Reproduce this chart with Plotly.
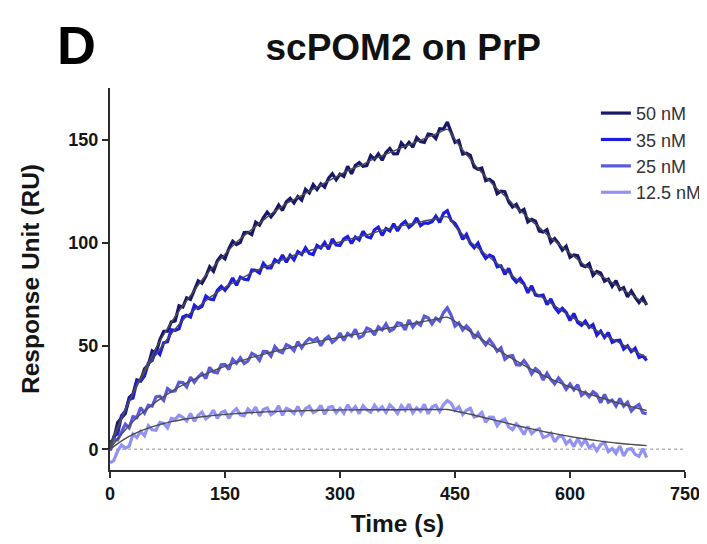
import plotly.graph_objects as go

# ---------------- data ----------------
series_names = ["50 nM", "35 nM", "25 nM", "12.5 nM"]
series_colors = ["#17186b", "#1c1ce3", "#5a5ad8", "#9292f4"]

# measured sensorgram time points (s), every 5 s
t_data = list(range(0, 701, 5))
# fitted-curve time points (s), every 10 s
t_fit = list(range(0, 701, 10))

data_50 = [
    3.2, 5.0, 13.0, 15.5, 17.4, 25.1, 26.8, 33.6, 33.2, 39.0,
    40.9, 47.7, 46.6, 53.1, 57.2, 57.2, 61.7, 62.2, 69.5, 68.9,
    73.4, 72.6, 77.6, 81.6, 80.4, 83.8, 88.4, 86.2, 91.3, 93.8,
    92.3, 97.2, 100.8, 99.2, 100.2, 105.0, 105.1, 104.0, 110.0, 108.6,
    112.1, 114.9, 112.6, 115.0, 118.3, 115.7, 119.9, 121.6, 119.3, 122.4,
    120.7, 125.9, 124.2, 128.2, 125.8, 128.6, 127.0, 131.3, 133.5, 130.5,
    133.3, 132.2, 137.1, 133.4, 137.5, 138.9, 137.1, 137.4, 142.3, 140.5,
    143.1, 140.0, 143.8, 145.7, 143.1, 143.2, 148.4, 146.3, 148.7, 146.3,
    151.0, 149.1, 148.7, 152.7, 152.4, 150.5, 155.3, 155.1, 158.5, 153.5,
    148.7, 149.6, 143.0, 143.4, 142.4, 136.7, 135.7, 136.3, 130.1, 130.8,
    129.4, 123.8, 125.0, 124.8, 119.9, 117.3, 118.6, 115.1, 116.2, 110.1,
    111.4, 110.5, 105.7, 105.2, 106.4, 100.3, 102.1, 99.7, 96.5, 98.4,
    93.0, 94.2, 93.8, 89.2, 88.5, 89.9, 84.2, 86.2, 85.4, 81.4,
    82.4, 78.9, 81.7, 77.4, 78.3, 73.9, 76.7, 73.6, 71.1, 73.5,
    69.9,
]

data_35 = [
    -0.6, 6.2, 7.6, 16.3, 18.5, 24.1, 24.8, 32.9, 33.1, 35.5,
    41.8, 43.0, 48.0, 46.0, 51.6, 52.1, 57.9, 57.6, 58.4, 64.1,
    64.9, 64.1, 69.8, 68.2, 69.2, 74.2, 72.8, 72.5, 77.0, 79.0,
    77.0, 79.4, 83.0, 79.5, 83.4, 82.4, 82.1, 86.9, 86.7, 85.4,
    90.1, 87.9, 87.9, 91.9, 90.6, 94.1, 90.6, 94.0, 91.8, 95.7,
    94.4, 97.6, 94.9, 94.3, 98.8, 97.5, 100.2, 96.9, 101.9, 99.0,
    98.8, 101.9, 103.1, 99.7, 102.8, 101.4, 105.6, 103.0, 102.4, 106.3,
    107.6, 103.6, 107.0, 105.8, 109.3, 105.8, 108.9, 110.4, 107.5, 109.0,
    112.1, 108.4, 109.7, 109.5, 110.3, 112.9, 109.9, 114.3, 115.6, 110.8,
    109.5, 106.3, 101.7, 104.1, 99.7, 97.6, 99.9, 95.5, 92.5, 94.1,
    93.2, 88.4, 88.9, 84.8, 87.6, 83.1, 81.0, 82.8, 80.1, 75.8,
    79.2, 74.7, 74.3, 74.7, 70.1, 72.8, 68.8, 66.4, 68.3, 66.3,
    62.4, 65.8, 61.5, 60.1, 62.1, 59.1, 60.4, 55.3, 57.3, 54.2,
    56.6, 51.8, 52.7, 52.9, 48.5, 50.1, 47.3, 49.0, 44.5, 45.2,
    43.0,
]

data_25 = [
    -0.1, 4.8, 4.6, 8.0, 12.2, 10.4, 15.8, 15.4, 20.2, 17.6,
    21.4, 20.9, 25.4, 25.7, 23.7, 29.4, 28.0, 28.3, 32.5, 32.4,
    30.2, 35.0, 32.5, 35.0, 36.8, 34.3, 39.7, 37.4, 37.0, 41.0,
    41.1, 38.7, 43.7, 41.7, 44.3, 41.6, 42.8, 46.5, 45.5, 43.1,
    47.4, 47.3, 45.1, 49.8, 47.6, 46.8, 50.7, 49.8, 47.7, 52.2,
    49.2, 51.9, 53.7, 52.6, 53.9, 50.2, 53.3, 54.7, 51.8, 53.3,
    56.3, 52.7, 56.2, 54.8, 58.1, 54.0, 55.0, 58.7, 57.9, 55.3,
    59.4, 57.9, 60.8, 57.3, 58.3, 61.3, 60.9, 57.8, 62.7, 59.2,
    61.6, 60.1, 64.5, 63.7, 60.7, 63.6, 62.2, 66.2, 68.5, 65.0,
    59.7, 61.2, 57.8, 59.8, 57.9, 53.7, 56.3, 53.0, 50.6, 53.2,
    50.7, 47.5, 49.2, 43.6, 45.1, 45.4, 41.0, 40.8, 43.0, 40.4,
    36.5, 39.1, 37.6, 33.6, 36.9, 33.8, 31.7, 34.6, 32.3, 29.1,
    31.6, 28.9, 31.3, 26.2, 27.7, 25.5, 27.9, 26.5, 22.6, 26.6,
    22.8, 23.8, 21.0, 24.6, 21.0, 22.8, 18.6, 20.5, 21.7, 17.7,
    17.3,
]

data_12 = [
    -6.5, -5.4, -0.7, 2.1, 0.6, 1.5, 7.4, 5.7, 8.7, 6.6,
    11.5, 9.5, 9.2, 13.1, 12.6, 10.4, 15.0, 14.5, 16.5, 15.5,
    13.8, 17.4, 13.6, 16.5, 18.0, 14.8, 16.2, 19.0, 15.0, 17.8,
    18.6, 15.0, 18.0, 19.7, 16.7, 16.2, 19.6, 17.7, 20.4, 16.2,
    19.3, 20.0, 16.8, 18.0, 21.1, 16.5, 19.9, 19.0, 17.4, 20.8,
    17.0, 19.7, 20.9, 17.8, 18.7, 21.3, 17.0, 20.3, 20.7, 17.7,
    19.8, 17.5, 21.6, 18.6, 20.7, 17.3, 21.1, 19.2, 18.0, 21.4,
    18.8, 20.6, 17.9, 21.5, 19.8, 17.4, 21.1, 18.8, 21.9, 17.7,
    20.1, 18.5, 21.8, 17.2, 20.5, 21.3, 18.3, 21.6, 23.6, 22.3,
    18.9, 20.6, 16.9, 18.9, 19.9, 15.6, 16.2, 17.9, 13.1, 15.6,
    15.5, 11.4, 13.7, 14.7, 10.9, 9.5, 12.3, 10.3, 7.2, 11.1,
    7.7, 9.2, 10.0, 5.7, 6.4, 7.9, 3.6, 6.1, 6.4, 2.7,
    4.4, 1.3, 5.1, 2.0, 4.6, 0.8, 2.3, -0.7, 2.3, 3.2,
    -1.1, 0.4, -2.0, 1.6, -3.2, 0.0, 0.4, -2.4, -3.4, 0.3,
    -4.0,
]

fit_50 = [
    2, 11, 19.5, 27.5, 35, 42, 49, 55.5, 61.5, 67,
    72, 77, 82, 86.5, 90.5, 94.5, 98.5, 102, 105, 108,
    111, 114, 116.5, 119, 121, 123, 125, 127, 129, 131,
    133, 135, 136.5, 138, 140, 141.5, 143, 144.5, 146, 147.5,
    149, 150.5, 152, 153.5, 155, 150, 145, 140.5, 136, 132,
    128, 124.5, 121, 117, 114, 110.5, 107.5, 104, 101, 98,
    95, 92, 89, 86.5, 84, 82, 79.5, 77, 75, 72.5,
    70.5,
]

fit_35 = [
    1, 10, 19, 27, 34, 40.5, 46, 51, 56, 60.5,
    64.5, 67.5, 70.5, 73.5, 76, 78.5, 80.5, 82.5, 84.5, 86.5,
    88, 89.5, 91, 92.5, 94, 95, 96.2, 97.3, 98.4, 99.5,
    100.5, 101.5, 102.5, 103.4, 104.3, 105.6, 106.5, 107.4, 108.2, 109,
    109.8, 110.6, 111.3, 112, 112.6, 108, 104, 100.5, 97.5, 94.5,
    91.5, 88.5, 85.5, 82.5, 79.5, 77, 74.5, 72, 69.5, 67,
    64.5, 62.5, 60.5, 58.5, 56.5, 54.5, 52.5, 50.5, 48.5, 46.5,
    44.5,
]

fit_25 = [
    0.5, 5, 9.5, 13.5, 17, 20, 23, 25.5, 28, 30.2,
    32.2, 34, 35.7, 37.3, 38.8, 40.2, 41.5, 42.7, 43.9, 45,
    46, 47, 47.9, 48.8, 49.7, 50.5, 51.3, 52.1, 52.9, 53.6,
    54.3, 55, 55.7, 56.4, 57.1, 57.8, 58.5, 59.2, 59.9, 60.6,
    61.3, 62, 62.7, 63.4, 64, 62, 59.5, 57, 54.5, 52,
    49.6, 47.2, 45, 42.8, 40.7, 38.7, 36.8, 35, 33.3, 31.7,
    30.2, 28.8, 27.5, 26.2, 25, 23.9, 22.8, 21.7, 20.7, 19.7,
    18.8,
]

fit_12 = [
    0, 2.8, 5.2, 7.2, 8.9, 10.3, 11.5, 12.5, 13.4, 14.1,
    14.8, 15.3, 15.8, 16.2, 16.6, 16.9, 17.2, 17.5, 17.7, 17.9,
    18.1, 18.3, 18.4, 18.5, 18.6, 18.7, 18.8, 18.9, 19.0, 19.0,
    19.1, 19.1, 19.1, 19.2, 19.2, 19.2, 19.2, 19.2, 19.2, 19.3,
    19.3, 19.3, 19.3, 19.3, 19.3, 18.6, 17.8, 17.0, 16.1, 15.2,
    14.3, 13.4, 12.5, 11.6, 10.7, 9.9, 9.1, 8.3, 7.6, 6.9,
    6.2, 5.6, 5.0, 4.5, 4.0, 3.5, 3.1, 2.7, 2.4, 2.1,
    1.8,
]

x_ticks = [0, 150, 300, 450, 600, 750]
y_ticks = [0, 50, 100, 150]

# ---------------- figure ----------------
FONT = "Liberation Sans, Arial, Helvetica, sans-serif"
TXT = "#151515"

fig = go.Figure()

all_data = [data_50, data_35, data_25, data_12]
all_fits = [fit_50, fit_35, fit_25, fit_12]

for name, ys, col in zip(series_names, all_data, series_colors):
    fig.add_trace(go.Scatter(
        x=t_data, y=ys, mode="lines", name=name, legendgroup=name,
        line=dict(color=col, width=3.2),
    ))

for ys in all_fits:
    fig.add_trace(go.Scatter(
        x=t_fit, y=ys, mode="lines", showlegend=False,
        line=dict(color="#4d4d4d", width=1.4, shape="spline"),
        hoverinfo="skip",
    ))

# dotted baseline at zero
fig.add_shape(type="line", xref="x", yref="y", x0=0, x1=750, y0=0, y1=0,
              line=dict(color="#b5b5b5", width=1.5, dash="dot"), layer="below")

fig.add_annotation(text="<b>D</b>", xref="paper", yref="paper",
                   x=-0.059, y=1.113, xanchor="center", yanchor="middle",
                   showarrow=False, font=dict(family=FONT, size=54, color="#000"))

# page body has an 8 px margin: figure is sized to fill the rest of the window
fig.update_layout(
    width=699, height=536,
    margin=dict(l=102, r=22, t=80, b=74, autoexpand=False),
    paper_bgcolor="white", plot_bgcolor="white",
    font=dict(family=FONT, color=TXT),
    title=dict(text="<b>scPOM2 on PrP</b>", x=0.51, xref="paper",
               y=1 - 39 / 536, yref="container", xanchor="center", yanchor="middle",
               font=dict(family=FONT, size=37, color="#111")),
    legend=dict(x=0.845, y=0.982, xanchor="left", yanchor="top",
                font=dict(family=FONT, size=18, color="#333"),
                bgcolor="rgba(0,0,0,0)", tracegroupgap=0),
    showlegend=True,
)

fig.update_xaxes(
    range=[0, 750], tickvals=x_ticks, ticktext=[str(v) for v in x_ticks],
    showline=True, linecolor="#2b2b2b", linewidth=2,
    ticks="outside", ticklen=6, tickwidth=2, tickcolor="#2b2b2b",
    showgrid=False, zeroline=False,
    tickfont=dict(family=FONT, size=18, color=TXT, weight="bold"),
    title=dict(text="<b>Time (s)</b>", font=dict(family=FONT, size=24.5, color=TXT), standoff=12),
)
fig.update_yaxes(
    range=[-10, 175], tickvals=y_ticks, ticktext=[str(v) for v in y_ticks],
    showline=True, linecolor="#2b2b2b", linewidth=2,
    ticks="outside", ticklen=6, tickwidth=2, tickcolor="#2b2b2b",
    showgrid=False, zeroline=False,
    tickfont=dict(family=FONT, size=18, color=TXT, weight="bold"),
    title=dict(text="<b>Response Unit (RU)</b>", font=dict(family=FONT, size=24.5, color=TXT), standoff=22),
)

fig.write_html("out.html")
